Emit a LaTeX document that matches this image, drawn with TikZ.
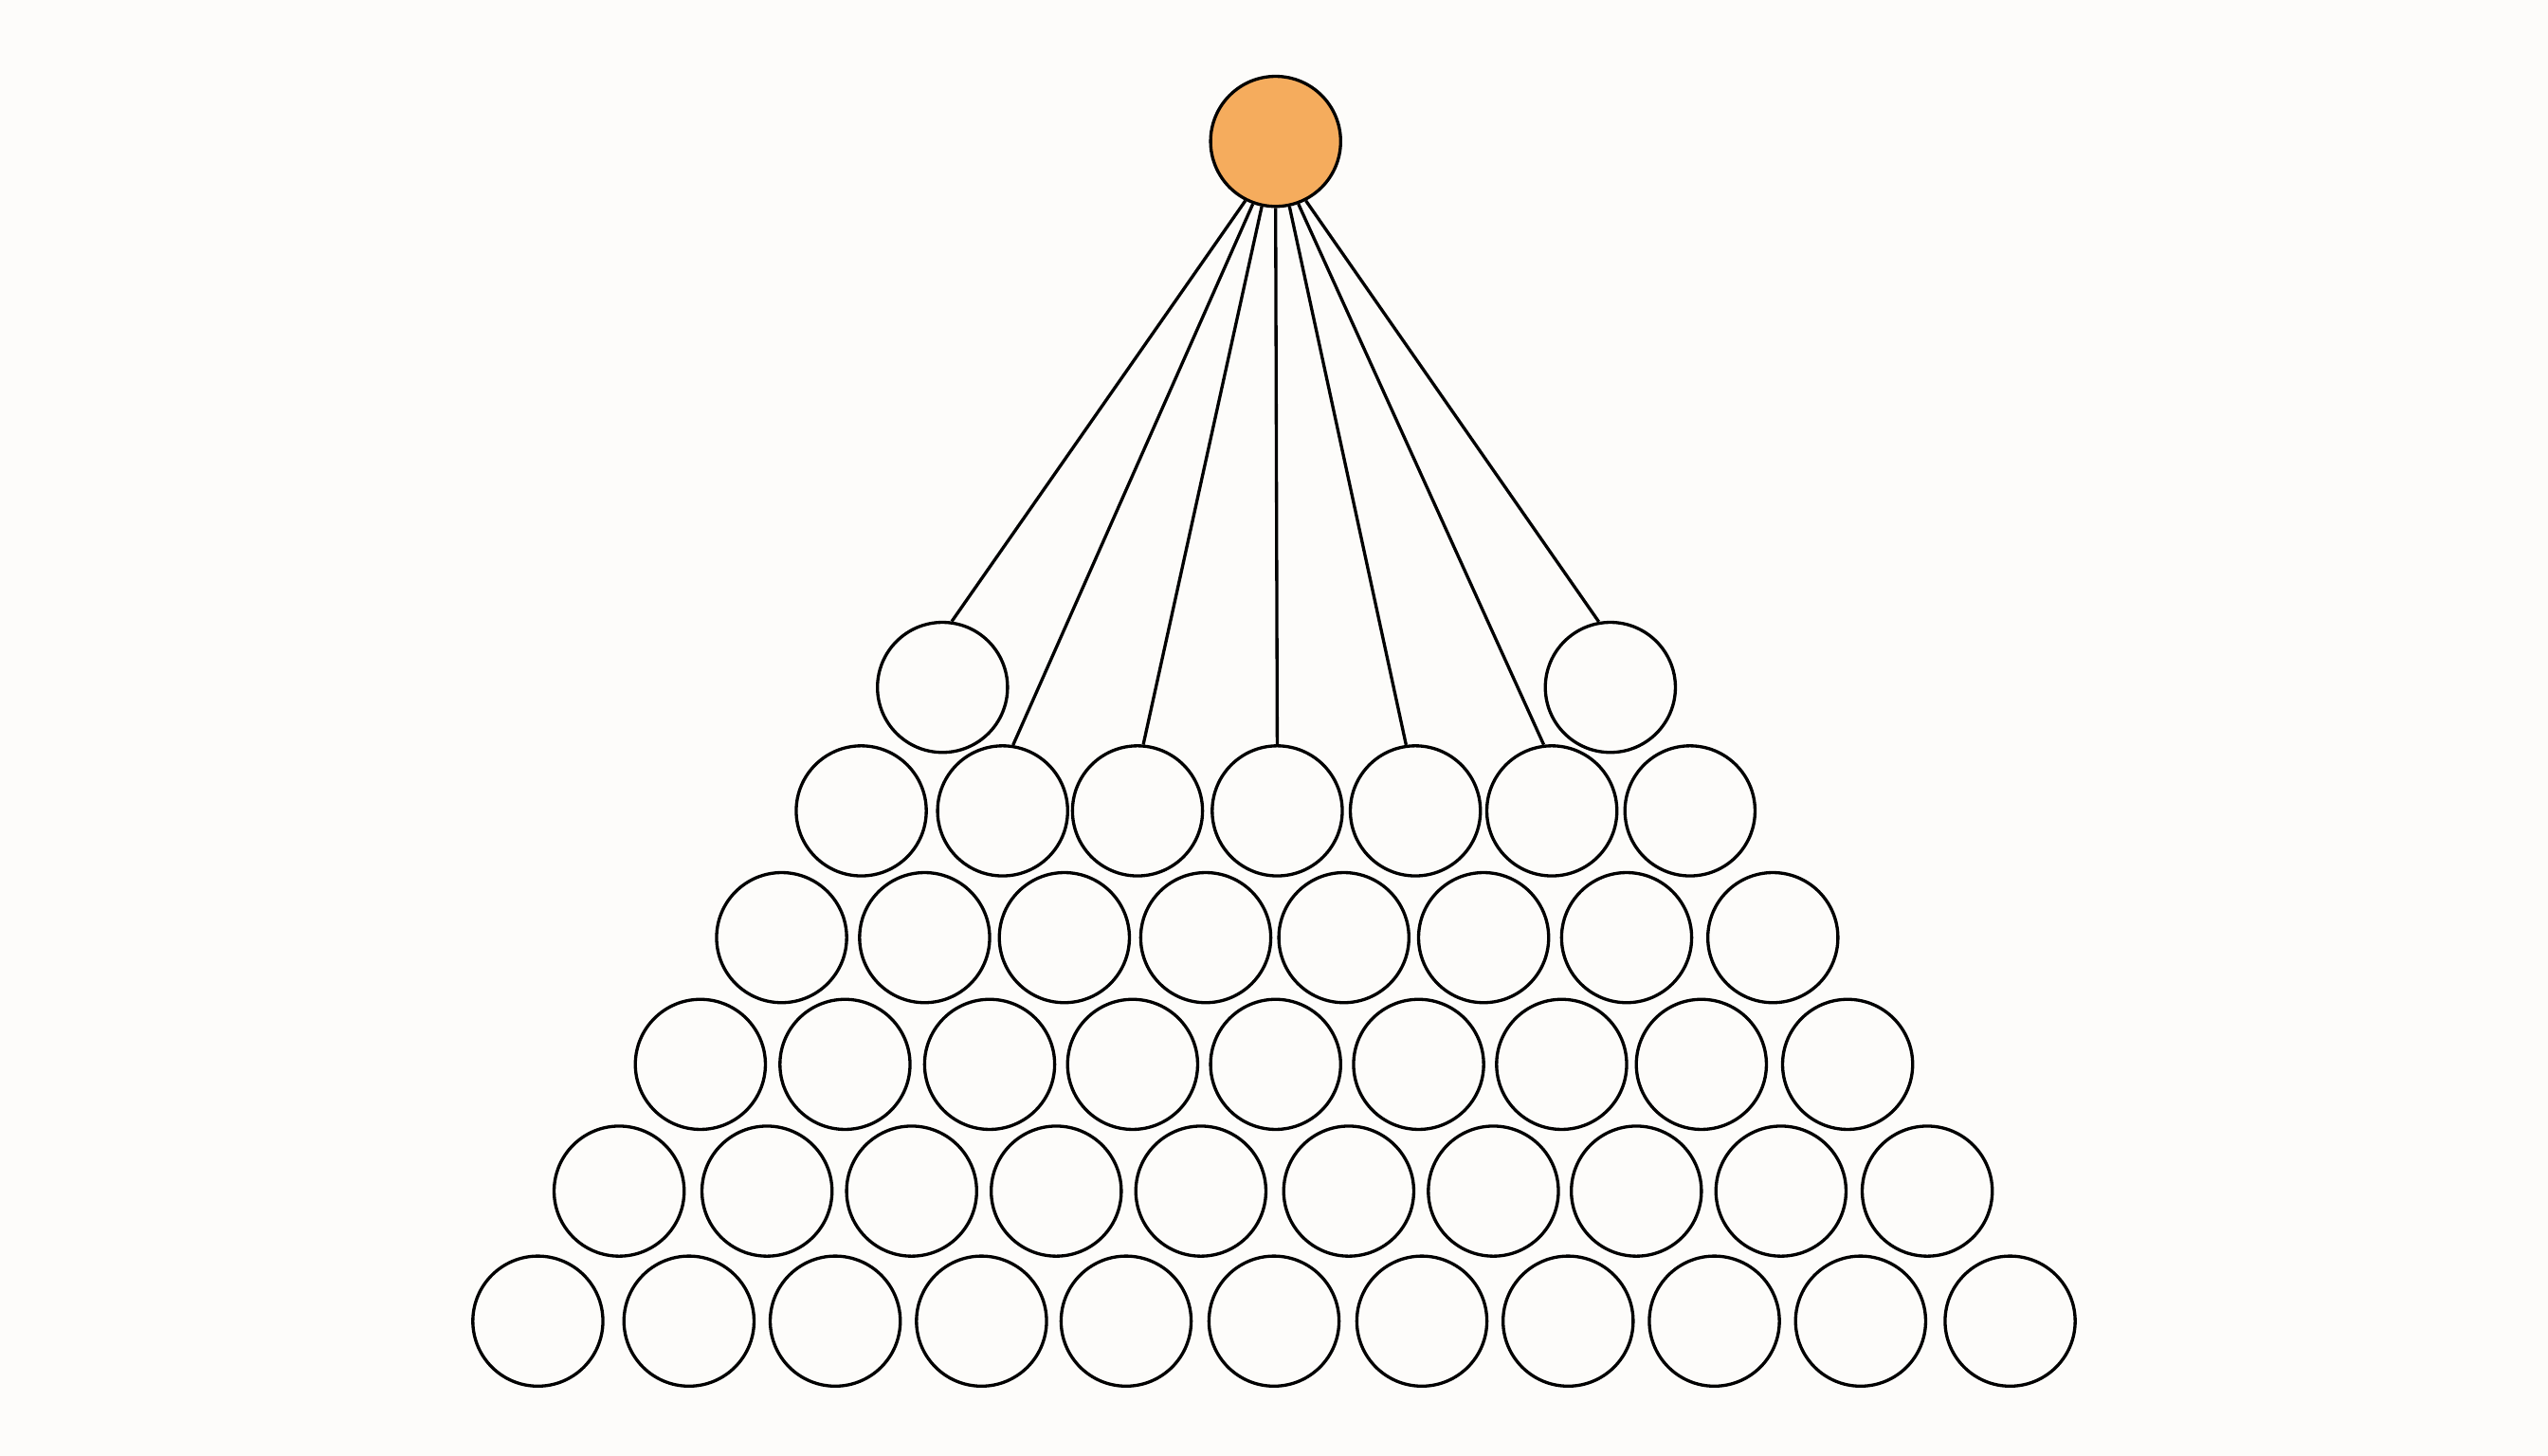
\documentclass[tikz,border=0pt]{standalone}

\definecolor{paper}{HTML}{FDFCFA}
\definecolor{apex}{HTML}{F5AC5D}
\tikzset{
  ball/.style={circle, draw, line width=0.55pt, minimum size=0.8cm, inner sep=0pt},
  link/.style={line width=0.55pt},
}

\begin{document}
\begin{tikzpicture}[x=0.01cm, y=0.01cm]
  \fill[paper] (0,0) rectangle (1568,896);
  \node[ball, fill=apex] (top) at (785,809) {};

  % rows of the pile, top to bottom
  \foreach \y/\xs [count=\r] in {
      473/{580,991},
      397/{530,617,700,786,871,955,1040},
      319/{481,569,655,742,827,913,1001,1091},
      241/{431,520,609,697,785,873,961,1047,1137},
      163/{381,472,561,650,739,830,919,1007,1096,1186},
       83/{331,424,514,604,693,784,875,965,1055,1145,1237}}
    \foreach \x [count=\i] in \xs
      \node[ball] (c\r-\i) at (\x,\y) {};

  % links from the top ball
  \foreach \a/\t/\b in {243/c1-1/82, 250/c2-2/81, 258/c2-3/85, 270/c2-4/90,
                        282/c2-5/98, 290/c2-6/97, 297/c1-2/100}
    \draw[link] (top.\a) -- (\t.\b);
\end{tikzpicture}
\end{document}
